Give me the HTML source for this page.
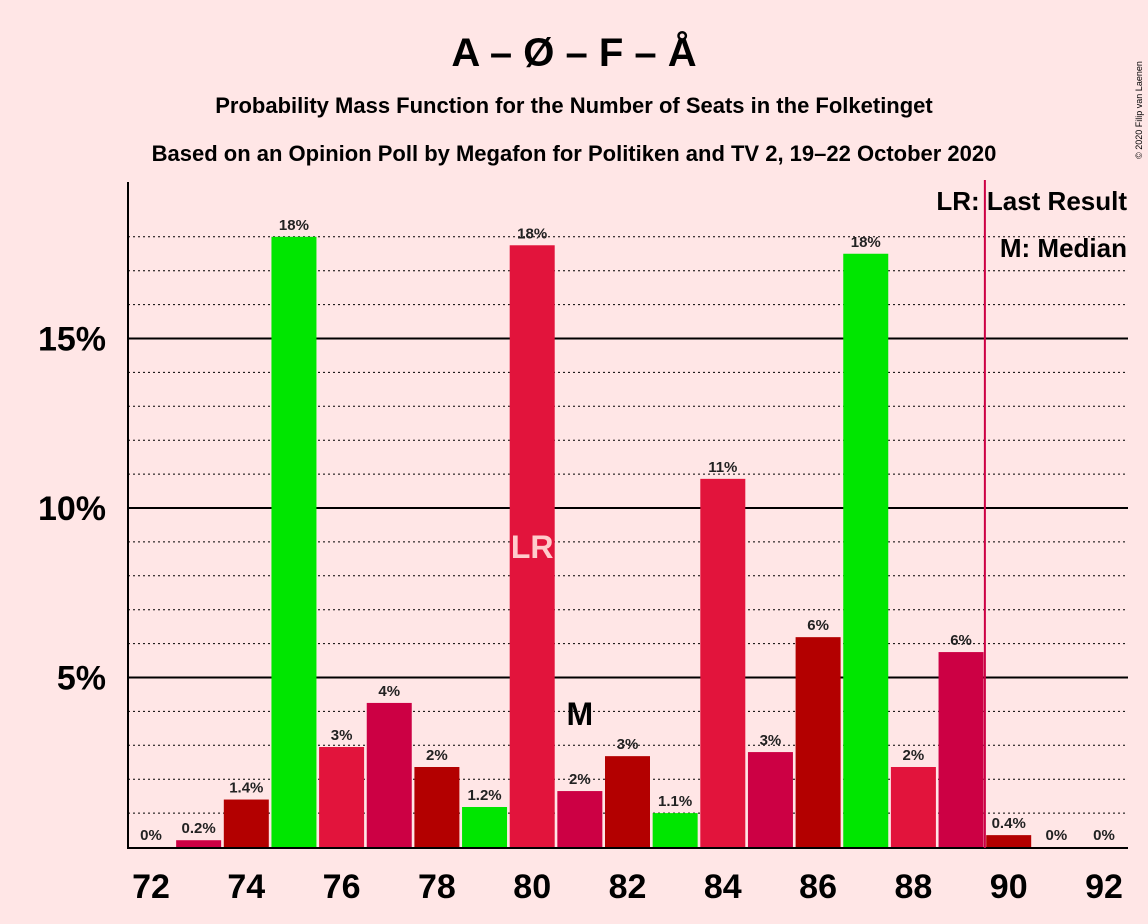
<!DOCTYPE html>
<html><head><meta charset="utf-8"><style>
body{margin:0;background:#ffe6e6;}
svg{display:block;font-family:"Liberation Sans",sans-serif;}
</style></head><body>
<svg id="chart" width="1148" height="924">
<rect width="1148" height="924" fill="#ffe6e6"/>
<text x="574" y="66" text-anchor="middle" font-size="40" font-weight="bold">A – Ø – F – Å</text>
<text x="574" y="113" text-anchor="middle" font-size="22" font-weight="bold">Probability Mass Function for the Number of Seats in the Folketinget</text>
<text x="574" y="161" text-anchor="middle" font-size="22" font-weight="bold">Based on an Opinion Poll by Megafon for Politiken and TV 2, 19–22 October 2020</text>
<text x="1142" y="110" font-size="9" transform="rotate(-90 1142 110)" text-anchor="middle">© 2020 Filip van Laenen</text>
<g id="grid"></g><g id="bars"></g><g id="axes"></g>
</svg>
<script>
const seats=[72,73,74,75,76,77,78,79,80,81,82,83,84,85,86,87,88,89,90,91,92];
const probs=[0,0.2,1.4,18.0,2.95,4.25,2.36,1.18,17.75,1.65,2.68,1.0,10.86,2.8,6.19,17.5,2.36,5.75,0.35,0,0];
const labels=["0%","0.2%","1.4%","18%","3%","4%","2%","1.2%","18%","2%","3%","1.1%","11%","3%","6%","18%","2%","6%","0.4%","0%","0%"];
const colors=["#e2143c","#cc0044","#b30000","#00e600","#e2143c","#cc0044","#b30000","#00e600","#e2143c","#cc0044","#b30000","#00e600","#e2143c","#cc0044","#b30000","#00e600","#e2143c","#cc0044","#b30000","#00e600","#e2143c"];
const yTicks=[5,10,15];
const lastResult=80, median=81;
const NS="http://www.w3.org/2000/svg";
const x=s=>151+(s-72)*47.65, y=v=>847-v*33.9;
function mk(t,a,p){const e=document.createElementNS(NS,t);for(const k in a)e.setAttribute(k,a[k]);p.appendChild(e);return e;}
const G=document.getElementById('grid'),B=document.getElementById('bars'),A=document.getElementById('axes');
for(let v=1;v<=18;v++){
 const solid=yTicks.includes(v);
 const l=mk('line',{x1:128,x2:1128,y1:y(v),y2:y(v),stroke:'#000','stroke-width':solid?2:1,'stroke-dasharray':solid?'':'2,3'},G);
 
 
}
yTicks.forEach(v=>{const t=mk('text',{x:106,y:y(v)+12,'text-anchor':'end','font-size':34,'font-weight':'bold'},A);t.textContent=v+'%';
 });
seats.forEach((s,i)=>{
 if(probs[i]>0){const r=mk('rect',{x:x(s)-22.5,y:y(probs[i]),width:45,height:probs[i]*33.9,fill:colors[i]},B);
  }
 const t=mk('text',{x:x(s),y:y(probs[i])-7,'text-anchor':'middle','font-size':15,'font-weight':'bold',fill:'#222'},B);t.textContent=labels[i];
 
 if(s%2===0){const tl=mk('text',{x:x(s),y:898,'text-anchor':'middle','font-size':34,'font-weight':'bold'},A);tl.textContent=s;
  }
});
const li=seats.indexOf(lastResult);
const lr=mk('text',{x:x(lastResult),y:y(probs[li]/2)+12,'text-anchor':'middle','font-size':32,'font-weight':'bold',fill:'#ffcccc'},B);lr.textContent='LR';

const mi=seats.indexOf(median);
const m=mk('text',{x:x(median),y:y(probs[mi])-66,'text-anchor':'middle','font-size':32,'font-weight':'bold'},B);m.textContent='M';

const ax=mk('line',{x1:128,x2:128,y1:182,y2:848,stroke:'#000','stroke-width':2},A);

const bx=mk('line',{x1:127,x2:1128,y1:848,y2:848,stroke:'#000','stroke-width':2},A);

const lrl=mk('line',{x1:x(89.5),x2:x(89.5),y1:180,y2:848,stroke:'#cc0044','stroke-width':2},A);

const l1=mk('text',{x:1127,y:210,'text-anchor':'end','font-size':26,'font-weight':'bold'},A);l1.textContent='LR: Last Result';

const l2=mk('text',{x:1127,y:257,'text-anchor':'end','font-size':26,'font-weight':'bold'},A);l2.textContent='M: Median';

</script>
</body></html>
